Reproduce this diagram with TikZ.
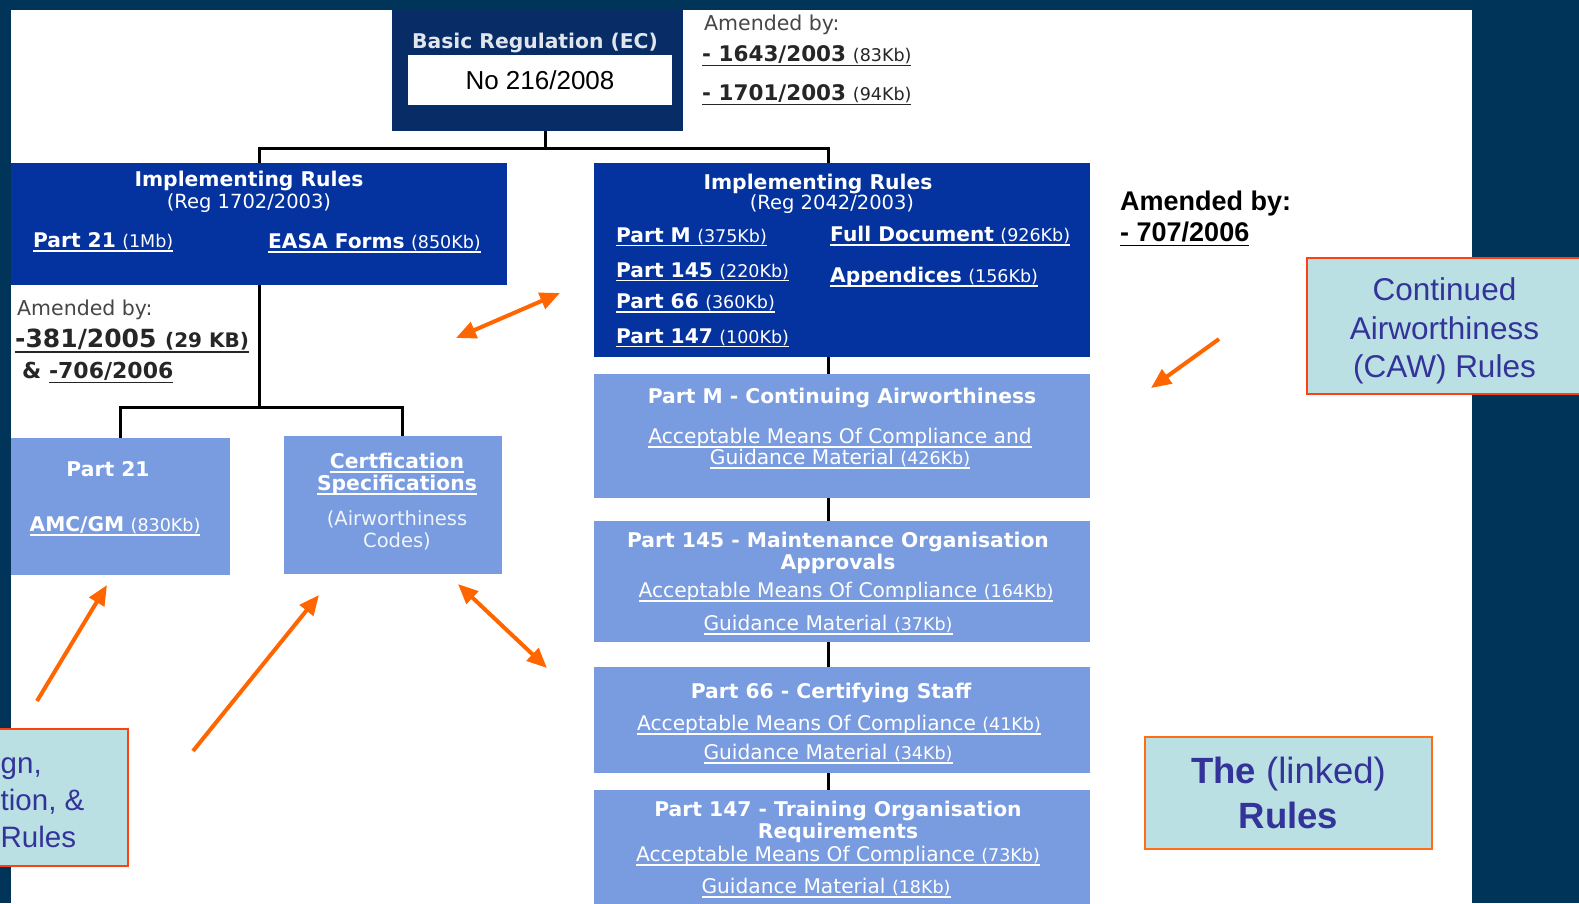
\documentclass[tikz,border=0pt]{standalone}
\usepackage{fontspec}
\setmainfont{DejaVu Sans}
\newfontfamily\arialfont{Liberation Sans}
\usepackage{tikz}
\usetikzlibrary{positioning,arrows.meta,calc}

\definecolor{navy}{RGB}{0,52,88}
\definecolor{bregblue}{RGB}{8,44,102}
\definecolor{irblue}{RGB}{4,50,158}
\definecolor{ltblue}{RGB}{121,155,223}
\definecolor{calloutfill}{RGB}{186,224,228}
\definecolor{callouttext}{RGB}{51,51,153}
\definecolor{cawred}{RGB}{255,64,16}
\definecolor{linkedorange}{RGB}{255,110,20}
\definecolor{arrorange}{RGB}{255,102,0}
\definecolor{amdgray}{RGB}{70,70,70}

\newcommand{\fsz}[1]{\fontsize{#1pt}{#1pt}\selectfont}
\newcommand{\kb}[1]{{\mdseries\fsz{17.5}#1}}
\newcommand{\lnk}[1]{\leavevmode\setbox0=\hbox{#1}\rlap{\rule[-0.2em]{\wd0}{0.07em}}\box0}

\begin{document}
\begin{tikzpicture}[x=1pt,y=-1pt,
	conn/.style={draw=black,line width=3pt},
	bregbox/.style={fill=bregblue,inner sep=0pt,outer sep=0pt},
	irbox/.style={fill=irblue,inner sep=0pt,outer sep=0pt},
	ltbox/.style={fill=ltblue,inner sep=0pt,outer sep=0pt},
	callout/.style={fill=calloutfill,line width=2.5pt,inner sep=0pt,text=callouttext,align=center},
	calltxt/.style={text=callouttext,inner sep=0pt,align=center},
	ttl/.style={text=white,inner sep=0pt,yshift=-3pt,font=\bfseries\fsz{20.3}},
	subtxt/.style={text=white,inner sep=0pt,yshift=-3pt,font=\fsz{19.5}},
	lnktxt/.style={text=white,inner sep=0pt,yshift=-3pt,font=\fsz{20.2}},
	amdtxt/.style={text=amdgray,inner sep=0pt,yshift=-3pt,font=\fsz{20.5}},
	arr/.style={draw=arrorange,line width=4pt,-{Triangle[length=20pt,width=17pt]}},
	darr/.style={arr,{Triangle[length=20pt,width=17pt]}-{Triangle[length=20pt,width=17pt]}}]
	\useasboundingbox (0,0) rectangle (1579,903);
	\fill[navy] (0,0) rectangle (1579,903);
	\fill[white] (11,10) rectangle (1472,903);
	
	% basic regulation
	\node[bregbox,minimum width=291pt,minimum height=121pt] (breg) at (537.5,70.5) {};
	\node[fill=white,inner sep=0pt,minimum width=264pt,minimum height=50pt,font=\arialfont\fsz{26}] (bregno) at (540,80) {No 216/2008};
	\node[ttl,text=white!88!bregblue] (bregT) at (535,40) {Basic Regulation (EC)};
	\node[amdtxt,anchor=west] (amdA) at (704,22) {Amended by:};
	\node[amdtxt,text=black!85,font=\fsz{21.5},anchor=west] (amdB) at (702,53) {\lnk{\textbf{- 1643/2003} \kb{(83Kb)}}};
	\node[amdtxt,text=black!85,font=\fsz{21.5},anchor=west] (amdC) at (702,92) {\lnk{\textbf{- 1701/2003} \kb{(94Kb)}}};
	
	% boxes
	\node[irbox,minimum width=496pt,minimum height=122pt] (irl) at (259,224) {};
	\node[irbox,minimum width=496pt,minimum height=194pt] (irr) at (842,260) {};
	\node[ltbox,minimum width=219pt,minimum height=137pt] (p21) at (120.5,506.5) {};
	\node[ltbox,minimum width=218pt,minimum height=138pt] (cs) at (393,505) {};
	\node[ltbox,minimum width=496pt,minimum height=124pt] (pm) at (842,436) {};
	\node[ltbox,minimum width=496pt,minimum height=121pt] (p145) at (842,581.5) {};
	\node[ltbox,minimum width=496pt,minimum height=106pt] (p66) at (842,720) {};
	\node[ltbox,minimum width=496pt,minimum height=130pt] (p147) at (842,855) {};
	
	% tree lines
	\draw[conn] ([xshift=7.5pt]breg.south) -- ++(0,17) -| (irl.north);
	\draw[conn] ([xshift=7.5pt]breg.south) -- ++(0,17) -| ([xshift=-14pt]irr.north);
	\draw[conn] (irl.south) -- ++(0,122) -| (p21.north);
	\draw[conn] (irl.south) -- ++(0,122) -| ([xshift=9pt]cs.north);
	\draw[conn] ([xshift=-14pt]irr.south) -- ([xshift=-14pt]pm.north);
	\draw[conn] ([xshift=-14pt]pm.south) -- ([xshift=-14pt]p145.north);
	\draw[conn] ([xshift=-14pt]p145.south) -- ([xshift=-14pt]p66.north);
	\draw[conn] ([xshift=-14pt]p66.south) -- ([xshift=-14pt]p147.north);
	
	% implementing rules (left)
	\node[ttl] (irlT) at (249,178) {Implementing Rules};
	\node[subtxt] (irlR) at (249,200) {(Reg 1702/2003)};
	\node[lnktxt,anchor=west] (irlA) at (33,239) {\lnk{\textbf{Part 21} \kb{(1Mb)}}};
	\node[lnktxt,anchor=west] (irlB) at (268,240) {\lnk{\textbf{EASA Forms} \kb{(850Kb)}}};
	\node[amdtxt,anchor=west] (amlA) at (17,307) {Amended by:};
	\node[amdtxt,text=black!85,font=\bfseries\fsz{25},anchor=west] (amlB) at (15,338) {\lnk{-381/2005 {\fsz{20}(29 KB)}}};
	\node[amdtxt,text=black!85,font=\bfseries\fsz{22},anchor=west] (amlC) at (22,370) {\& \lnk{-706/2006}};
	
	\node[ttl] (p21T) at (108,466) {Part 21};
	\node[lnktxt] (p21A) at (115,523) {\lnk{\textbf{AMC/GM} \kb{(830Kb)}}};
	\node[ttl] (csA) at (397,460) {\lnk{Certfication}};
	\node[ttl] (csB) at (397,482) {\lnk{Specifications}};
	\node[subtxt,text=white!90!ltblue] (csC) at (397,516) {(Airworthiness};
	\node[subtxt,text=white!90!ltblue] (csD) at (397,538) {Codes)};
	
	% implementing rules (right)
	\node[ttl] (irrT) at (818,181) {Implementing Rules};
	\node[subtxt] (irrR) at (832,201) {(Reg 2042/2003)};
	\node[lnktxt,anchor=west] (irrA) at (616,234) {\lnk{\textbf{Part M} \kb{(375Kb)}}};
	\node[lnktxt,anchor=west] (irrB) at (616,269) {\lnk{\textbf{Part 145} \kb{(220Kb)}}};
	\node[lnktxt,anchor=west] (irrC) at (616,300) {\lnk{\textbf{Part 66} \kb{(360Kb)}}};
	\node[lnktxt,anchor=west] (irrD) at (616,335) {\lnk{\textbf{Part 147} \kb{(100Kb)}}};
	\node[lnktxt,anchor=west] (irrE) at (830,233) {\lnk{\textbf{Full Document} \kb{(926Kb)}}};
	\node[lnktxt,anchor=west] (irrF) at (830,274) {\lnk{\textbf{Appendices} \kb{(156Kb)}}};
	
	\node[ttl] (pmT) at (842,395) {Part M - Continuing Airworthiness};
	\node[lnktxt] (pmA) at (840,435) {\lnk{Acceptable Means Of Compliance and}};
	\node[lnktxt] (pmG) at (840,456) {\lnk{Guidance Material \kb{(426Kb)}}};
	\node[ttl] (p145T) at (838,539) {Part 145 - Maintenance Organisation};
	\node[ttl] (p145U) at (838,561) {Approvals};
	\node[lnktxt] (p145A) at (846,589) {\lnk{Acceptable Means Of Compliance \kb{(164Kb)}}};
	\node[lnktxt] (p145G) at (828,622) {\lnk{Guidance Material \kb{(37Kb)}}};
	\node[ttl] (p66T) at (831,690) {Part 66 - Certifying Staff};
	\node[lnktxt] (p66A) at (839,722) {\lnk{Acceptable Means Of Compliance \kb{(41Kb)}}};
	\node[lnktxt] (p66G) at (828,751) {\lnk{Guidance Material \kb{(34Kb)}}};
	\node[ttl] (p147T) at (838,808) {Part 147 - Training Organisation};
	\node[ttl] (p147U) at (838,830) {Requirements};
	\node[lnktxt] (p147A) at (838,853) {\lnk{Acceptable Means Of Compliance \kb{(73Kb)}}};
	\node[lnktxt] (p147G) at (826,885) {\lnk{Guidance Material \kb{(18Kb)}}};
	
	\node[text=black,inner sep=0pt,font=\arialfont\bfseries\fsz{27},anchor=west] (amrA) at (1120,204) {Amended by:};
	\node[text=black,inner sep=0pt,font=\arialfont\bfseries\fsz{27},anchor=west] (amrB) at (1120,234) {\lnk{- 707/2006}};
	
	% callouts
	\node[callout,draw=cawred,minimum width=275pt,minimum height=136pt] (caw) at (1444.5,326) {};
	\node[calltxt,font=\arialfont\fontsize{31.5pt}{38.5pt}\selectfont] (cawT) at ([yshift=-5pt]caw.center) {Continued\\Airworthiness\\(CAW) Rules};
	\node[callout,draw=linkedorange,minimum width=287pt,minimum height=112pt,font=\arialfont\fontsize{36.5pt}{45pt}\selectfont] (linked) at (1288.5,793) {\textbf{The} (linked)\\\textbf{Rules}};
	\node[callout,draw=cawred,minimum width=278pt,minimum height=137pt] (dpc) at (-11,797.5) {};
	\node[calltxt,font=\arialfont\fsz{29.5},anchor=base west] (dpcA) at (0.5,773) {gn,};
	\node[calltxt,font=\arialfont\fsz{29.5},anchor=base west] (dpcB) at (0.5,810) {tion, \&};
	\node[calltxt,font=\arialfont\fsz{29.5},anchor=base west] (dpcC) at (0.5,847) {Rules};
	
	% arrows
	\coordinate (irArrA) at (456,338);
	\coordinate (irArrB) at (560,293);
	\coordinate (cawArrA) at (1219,339);
	\coordinate (cawArrB) at (1151,388);
	\coordinate (p21ArrA) at (37,701);
	\coordinate (p21ArrB) at (107,585);
	\coordinate (csArrA) at (193,751);
	\coordinate (csArrB) at (319,595);
	\coordinate (csArrC) at (458,584);
	\coordinate (csArrD) at (547,668);
	\draw[darr] (irArrA) -- (irArrB);
	\draw[arr] (cawArrA) -- (cawArrB);
	\draw[arr] (p21ArrA) -- (p21ArrB);
	\draw[arr] (csArrA) -- (csArrB);
	\draw[darr] (csArrC) -- (csArrD);
\end{tikzpicture}
\end{document}
